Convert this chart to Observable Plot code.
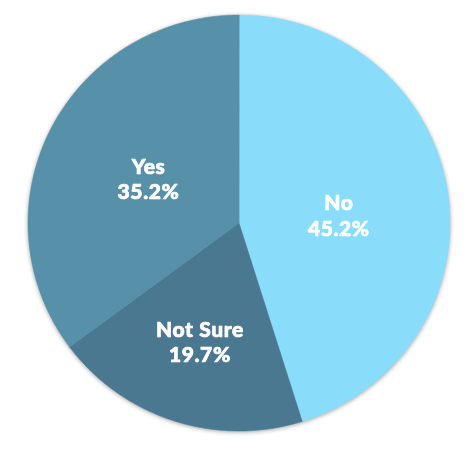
<!DOCTYPE html>
<html>
<head>
<meta charset="utf-8">
<script src="https://cdn.jsdelivr.net/npm/d3@7"></script>
<script src="https://cdn.jsdelivr.net/npm/@observablehq/plot@0.6"></script>
<style>
  html, body { margin: 0; padding: 0; background: #ffffff; }
  #chart svg { display: block; filter: drop-shadow(0 1px 2px rgba(0,0,0,0.35)); }
</style>
</head>
<body>
<div id="chart"></div>
<script>
// Data
const categories = ["No", "Not Sure", "Yes"];
const percents = [45.2, 19.7, 35.2];

// Style / layout
const colors = ["#89ddfb", "#4a7891", "#5790a9"];
const labelRadius = [0.475, 0.6, 0.48];
const labelAngleShift = [4, 0, 0]; // degrees

const pie = d3.pie().sort(null).value(d => d)(percents);

// Polygon vertices for each slice (angle measured clockwise from 12 o'clock)
const pts = [];
pie.forEach((p, i) => {
  const key = categories[i];
  pts.push({key, x: 0, y: 0});
  const n = Math.max(2, Math.ceil((p.endAngle - p.startAngle) / (Math.PI / 360)));
  for (let k = 0; k <= n; k++) {
    const a = p.startAngle + (p.endAngle - p.startAngle) * k / n;
    pts.push({key, x: Math.sin(a), y: Math.cos(a)});
  }
});

const labels = pie.map((p, i) => {
  const a = (p.startAngle + p.endAngle) / 2 + labelAngleShift[i] * Math.PI / 180;
  return {
    key: categories[i],
    text: `${categories[i]}\n${percents[i].toFixed(1)}%`,
    x: labelRadius[i] * Math.sin(a),
    y: labelRadius[i] * Math.cos(a)
  };
});

const chart = Plot.plot({
  width: 474,
  height: 450,
  margin: 0,
  x: {domain: [-1, 1], range: [27.5, 449.5], axis: null},
  y: {domain: [-1, 1], range: [430.5, 14.5], axis: null},
  color: {domain: categories, range: colors},
  marks: [
    Plot.line(pts, {x: "x", y: "y", z: "key", fill: "key", stroke: "key", strokeWidth: 0.5, curve: "linear-closed"}),
    Plot.text(labels, {
      x: "x", y: "y", text: "text",
      fill: "white",
      stroke: "white",
      strokeWidth: 0.7,
      fontSize: 21,
      fontWeight: 900,
      fontFamily: "Lato",
      lineHeight: 1.2
    })
  ]
});
chart.querySelectorAll("text").forEach(t => t.style.letterSpacing = "0.6px");
document.getElementById("chart").append(chart);
</script>
</body>
</html>
